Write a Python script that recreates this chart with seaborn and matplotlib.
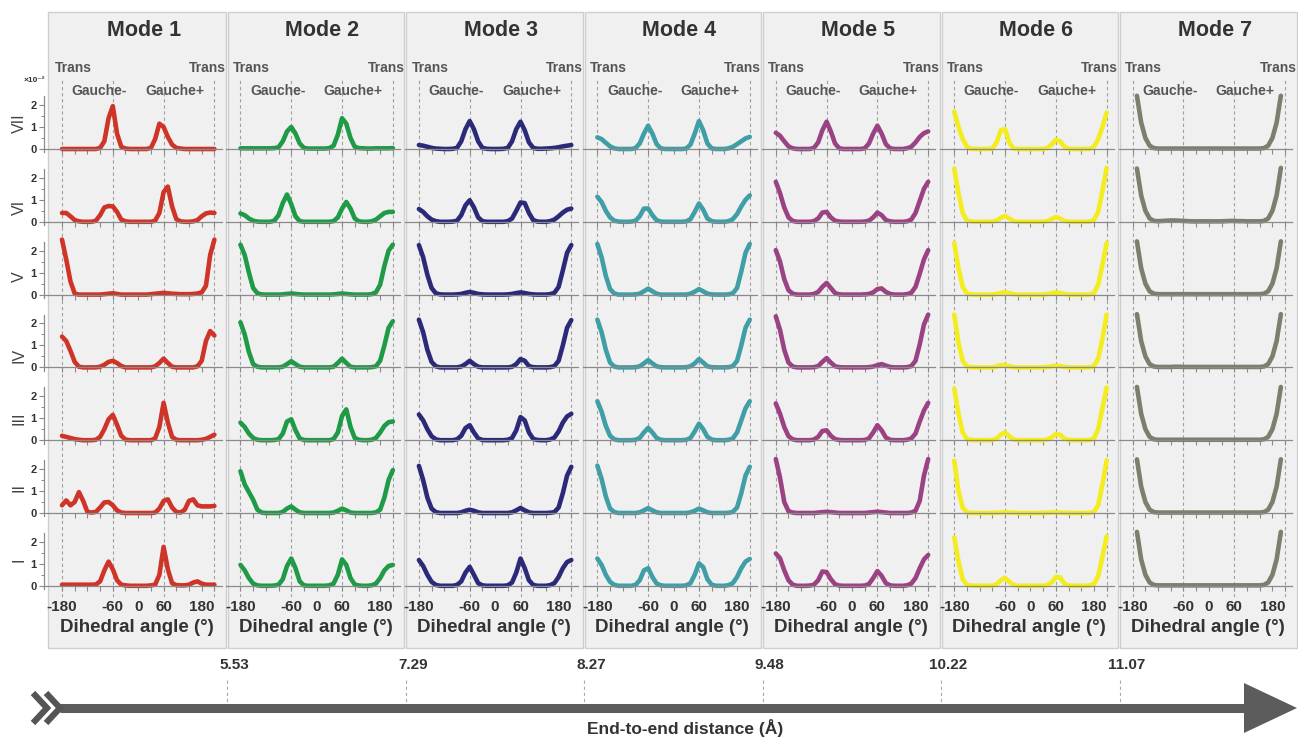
import matplotlib
matplotlib.use("Agg")
import matplotlib.pyplot as plt
import seaborn as sns
from matplotlib.patches import Rectangle, Polygon
from matplotlib.lines import Line2D

nan = float("nan")

# ---------------- data ----------------
ANGLES = list(range(-180, 181, 10))  # dihedral angle grid (deg)
MODES = ["Mode 1", "Mode 2", "Mode 3", "Mode 4", "Mode 5", "Mode 6", "Mode 7"]
ROWS = ["VII", "VI", "V", "IV", "III", "II", "I"]
COLORS = ["#cf3428", "#1f9a47", "#2b2a78", "#3f9ea6", "#9a4283", "#f3ec1f", "#7e7e6e"]
DISTANCES = ["5.53", "7.29", "8.27", "9.48", "10.22", "11.07"]
XTICK_LABELS = ["-180", "-60", "0", "60", "180"]

# probability (x10^-2); rows VII..I; values at ANGLES
MODE1 = [
    [0, 0, 0, 0, 0, 0, 0, 0, 0, 0.05, 0.35, 1.4, 1.95, 0.7, 0.1, 0.02, 0, 0, 0, 0, 0, 0.05, 0.45, 1.15, 1.0, 0.55, 0.2, 0.05, 0.02, 0, 0, 0, 0, 0, 0, 0, 0],
    [0.4, 0.4, 0.25, 0.08, 0.02, 0, 0, 0, 0.05, 0.3, 0.65, 0.72, 0.7, 0.45, 0.1, 0.02, 0, 0, 0, 0, 0, 0, 0.05, 0.4, 1.35, 1.6, 0.7, 0.12, 0.02, 0, 0, 0.02, 0.08, 0.25, 0.38, 0.42, 0.4],
    [2.5, 1.6, 0.6, 0.05, 0, 0, 0, 0, 0, 0, 0.02, 0.04, 0.06, 0.03, 0, 0, 0, 0, 0, 0, 0, 0.02, 0.04, 0.06, 0.08, 0.06, 0.04, 0.03, 0.02, 0.02, 0.02, 0.03, 0.05, 0.1, 0.4, 1.8, 2.5],
    [1.4, 1.2, 0.75, 0.25, 0.03, 0, 0, 0, 0, 0.03, 0.12, 0.25, 0.3, 0.2, 0.06, 0, 0, 0, 0, 0, 0, 0, 0.05, 0.2, 0.4, 0.2, 0.03, 0, 0, 0, 0, 0, 0.05, 0.3, 1.2, 1.65, 1.45],
    [0.2, 0.15, 0.1, 0.05, 0.02, 0, 0, 0, 0.02, 0.15, 0.5, 0.95, 1.15, 0.7, 0.2, 0.03, 0, 0, 0, 0, 0, 0, 0.08, 0.6, 1.7, 0.8, 0.15, 0.02, 0, 0, 0, 0, 0, 0.02, 0.06, 0.15, 0.25],
    [0.35, 0.57, 0.35, 0.5, 0.95, 0.55, 0.05, 0.02, 0.05, 0.25, 0.48, 0.5, 0.35, 0.12, 0.02, 0, 0, 0, 0, 0, 0, 0, 0.02, 0.2, 0.55, 0.62, 0.25, 0.05, 0.02, 0.15, 0.55, 0.62, 0.35, 0.3, 0.3, 0.3, 0.32],
    [0.05, 0.05, 0.05, 0.05, 0.05, 0.05, 0.05, 0.05, 0.06, 0.2, 0.7, 1.1, 0.75, 0.25, 0.05, 0.02, 0, 0, 0, 0, 0, 0.02, 0.05, 0.5, 1.77, 0.75, 0.12, 0.03, 0.02, 0.02, 0.05, 0.15, 0.2, 0.1, 0.05, 0.05, 0.05],
]
MODE2 = [
    [0.03, 0.03, 0.03, 0.03, 0.03, 0.03, 0.03, 0.03, 0.04, 0.08, 0.35, 0.8, 1.0, 0.7, 0.25, 0.05, 0.02, 0.02, 0.02, 0.02, 0.02, 0.04, 0.15, 0.65, 1.4, 1.15, 0.5, 0.1, 0.04, 0.03, 0.02, 0.02, 0.03, 0.03, 0.03, 0.03, 0.04],
    [0.38, 0.3, 0.15, 0.05, 0.01, 0, 0, 0, 0.05, 0.3, 0.85, 1.24, 0.8, 0.25, 0.03, 0, 0, 0, 0, 0, 0, 0, 0.03, 0.2, 0.6, 0.9, 0.6, 0.15, 0.02, 0, 0, 0.02, 0.1, 0.25, 0.4, 0.45, 0.45],
    [2.27, 1.8, 1.0, 0.3, 0.06, 0.01, 0, 0, 0, 0, 0.01, 0.03, 0.05, 0.03, 0.01, 0, 0, 0, 0, 0, 0, 0, 0.01, 0.03, 0.05, 0.03, 0.01, 0, 0, 0, 0, 0.02, 0.1, 0.45, 1.3, 2.0, 2.27],
    [2.05, 1.5, 0.7, 0.15, 0.03, 0, 0, 0, 0, 0, 0.03, 0.15, 0.28, 0.15, 0.03, 0, 0, 0, 0, 0, 0, 0, 0.03, 0.2, 0.4, 0.2, 0.03, 0, 0, 0, 0, 0.01, 0.05, 0.3, 1.0, 1.8, 2.1],
    [0.8, 0.6, 0.3, 0.1, 0.02, 0, 0, 0, 0.01, 0.05, 0.3, 0.85, 0.95, 0.45, 0.08, 0.01, 0, 0, 0, 0, 0, 0, 0.05, 0.35, 1.1, 1.4, 0.6, 0.1, 0.02, 0, 0, 0.02, 0.1, 0.35, 0.65, 0.82, 0.85],
    [1.9, 1.3, 0.95, 0.6, 0.15, 0.02, 0, 0, 0, 0, 0.05, 0.2, 0.3, 0.15, 0.03, 0, 0, 0, 0, 0, 0, 0, 0.02, 0.1, 0.2, 0.12, 0.02, 0, 0, 0, 0, 0, 0.03, 0.15, 0.7, 1.5, 1.95],
    [0.95, 0.7, 0.35, 0.1, 0.02, 0, 0, 0, 0.01, 0.05, 0.3, 0.9, 1.24, 0.8, 0.2, 0.02, 0, 0, 0, 0, 0, 0.02, 0.1, 0.5, 1.2, 0.95, 0.35, 0.06, 0.01, 0, 0, 0.02, 0.1, 0.35, 0.7, 0.9, 0.95],
]
MODE3 = [
    [0.18, 0.15, 0.1, 0.05, 0.02, 0.01, 0, 0, 0.01, 0.05, 0.35, 0.9, 1.27, 0.9, 0.35, 0.05, 0.01, 0, 0, 0, 0.01, 0.05, 0.35, 0.9, 1.24, 0.85, 0.3, 0.05, 0.01, 0.01, 0.02, 0.03, 0.05, 0.08, 0.12, 0.15, 0.18],
    [0.58, 0.45, 0.25, 0.1, 0.03, 0, 0, 0, 0.01, 0.05, 0.3, 0.75, 0.98, 0.65, 0.2, 0.03, 0, 0, 0, 0, 0, 0.03, 0.15, 0.5, 0.88, 0.85, 0.4, 0.08, 0.01, 0, 0, 0.03, 0.1, 0.25, 0.42, 0.55, 0.6],
    [2.25, 1.7, 0.9, 0.3, 0.06, 0.01, 0, 0, 0, 0.01, 0.03, 0.08, 0.12, 0.08, 0.03, 0.01, 0, 0, 0, 0, 0, 0.01, 0.03, 0.07, 0.1, 0.07, 0.03, 0.01, 0, 0, 0, 0.02, 0.08, 0.35, 1.1, 1.9, 2.25],
    [2.17, 1.6, 0.8, 0.25, 0.05, 0, 0, 0, 0, 0, 0.04, 0.15, 0.3, 0.15, 0.03, 0, 0, 0, 0, 0, 0, 0, 0.03, 0.15, 0.38, 0.3, 0.06, 0.01, 0, 0, 0, 0.01, 0.06, 0.3, 1.0, 1.8, 2.15],
    [1.17, 0.9, 0.5, 0.18, 0.04, 0, 0, 0, 0, 0.04, 0.2, 0.55, 0.68, 0.35, 0.08, 0.01, 0, 0, 0, 0, 0, 0.02, 0.1, 0.45, 1.05, 0.9, 0.35, 0.06, 0.01, 0, 0, 0.03, 0.12, 0.4, 0.8, 1.08, 1.2],
    [2.14, 1.5, 0.7, 0.2, 0.04, 0, 0, 0, 0, 0, 0.03, 0.1, 0.15, 0.1, 0.03, 0, 0, 0, 0, 0, 0, 0, 0.03, 0.12, 0.23, 0.12, 0.03, 0, 0, 0, 0, 0.01, 0.04, 0.25, 0.9, 1.7, 2.1],
    [1.17, 0.9, 0.5, 0.18, 0.04, 0, 0, 0, 0, 0.04, 0.2, 0.6, 0.86, 0.5, 0.12, 0.02, 0, 0, 0, 0, 0, 0.02, 0.15, 0.6, 1.24, 0.8, 0.25, 0.04, 0, 0, 0, 0.03, 0.12, 0.4, 0.8, 1.08, 1.17],
]
MODE4 = [
    [0.53, 0.45, 0.28, 0.12, 0.03, 0, 0, 0, 0, 0.04, 0.25, 0.7, 1.06, 0.7, 0.22, 0.03, 0, 0, 0, 0, 0, 0.02, 0.2, 0.7, 1.27, 0.85, 0.25, 0.03, 0, 0, 0, 0.03, 0.1, 0.22, 0.35, 0.48, 0.55],
    [1.14, 0.9, 0.5, 0.2, 0.05, 0.01, 0, 0, 0.01, 0.05, 0.25, 0.6, 0.6, 0.3, 0.07, 0.01, 0, 0, 0, 0, 0, 0.02, 0.12, 0.45, 0.83, 0.55, 0.15, 0.03, 0, 0, 0, 0.03, 0.12, 0.35, 0.7, 1.0, 1.2],
    [2.3, 1.7, 0.85, 0.25, 0.05, 0, 0, 0, 0, 0.01, 0.04, 0.15, 0.27, 0.15, 0.04, 0, 0, 0, 0, 0, 0, 0, 0.04, 0.13, 0.25, 0.15, 0.04, 0.01, 0, 0, 0, 0.01, 0.06, 0.3, 1.05, 1.9, 2.3],
    [2.17, 1.6, 0.8, 0.22, 0.04, 0, 0, 0, 0, 0.01, 0.05, 0.18, 0.33, 0.18, 0.05, 0.01, 0, 0, 0, 0, 0, 0.01, 0.05, 0.18, 0.38, 0.22, 0.05, 0.01, 0, 0, 0, 0.01, 0.06, 0.3, 1.0, 1.8, 2.17],
    [1.77, 1.3, 0.65, 0.2, 0.04, 0, 0, 0, 0, 0.02, 0.1, 0.35, 0.56, 0.35, 0.1, 0.02, 0, 0, 0, 0, 0, 0.02, 0.1, 0.4, 0.75, 0.5, 0.15, 0.03, 0, 0, 0, 0.02, 0.08, 0.35, 0.9, 1.45, 1.77],
    [2.15, 1.55, 0.75, 0.2, 0.04, 0, 0, 0, 0, 0, 0.03, 0.12, 0.22, 0.12, 0.03, 0, 0, 0, 0, 0, 0, 0, 0.03, 0.1, 0.2, 0.12, 0.03, 0, 0, 0, 0, 0.01, 0.05, 0.25, 0.9, 1.7, 2.1],
    [1.24, 0.95, 0.5, 0.18, 0.04, 0, 0, 0, 0, 0.04, 0.25, 0.7, 0.8, 0.4, 0.1, 0.02, 0, 0, 0, 0, 0, 0.02, 0.12, 0.5, 1.02, 0.85, 0.3, 0.05, 0, 0, 0, 0.03, 0.12, 0.4, 0.8, 1.1, 1.22],
]
MODE5 = [
    [0.74, 0.6, 0.35, 0.12, 0.03, 0, 0, 0, 0, 0.05, 0.3, 0.85, 1.24, 0.8, 0.25, 0.03, 0, 0, 0, 0, 0, 0.03, 0.25, 0.7, 1.06, 0.7, 0.22, 0.03, 0, 0, 0, 0.03, 0.1, 0.3, 0.55, 0.72, 0.8],
    [1.82, 1.3, 0.65, 0.2, 0.04, 0, 0, 0, 0, 0.03, 0.15, 0.42, 0.45, 0.2, 0.05, 0.01, 0, 0, 0, 0, 0, 0.01, 0.05, 0.2, 0.42, 0.3, 0.08, 0.02, 0, 0, 0, 0.02, 0.1, 0.4, 0.95, 1.5, 1.82],
    [2.02, 1.5, 0.7, 0.2, 0.04, 0, 0, 0, 0, 0.03, 0.12, 0.35, 0.53, 0.3, 0.07, 0.01, 0, 0, 0, 0, 0, 0.01, 0.03, 0.1, 0.25, 0.28, 0.12, 0.03, 0, 0, 0, 0.02, 0.08, 0.35, 0.95, 1.6, 2.02],
    [2.32, 1.7, 0.8, 0.22, 0.04, 0, 0, 0, 0, 0.01, 0.06, 0.25, 0.42, 0.22, 0.05, 0.01, 0, 0, 0, 0, 0, 0, 0.01, 0.04, 0.1, 0.15, 0.08, 0.02, 0, 0, 0, 0.01, 0.06, 0.3, 1.05, 1.95, 2.4],
    [1.67, 1.2, 0.6, 0.18, 0.04, 0, 0, 0, 0, 0.03, 0.15, 0.42, 0.45, 0.2, 0.05, 0.01, 0, 0, 0, 0, 0, 0.01, 0.08, 0.35, 0.68, 0.45, 0.12, 0.02, 0, 0, 0, 0.02, 0.08, 0.3, 0.85, 1.35, 1.7],
    [2.45, 1.6, 0.5, 0.08, 0.02, 0, 0, 0, 0, 0, 0.02, 0.04, 0.05, 0.04, 0.02, 0, 0, 0, 0, 0, 0, 0, 0.02, 0.04, 0.06, 0.04, 0.02, 0, 0, 0, 0, 0, 0.02, 0.1, 0.55, 1.7, 2.45],
    [1.47, 1.25, 0.7, 0.25, 0.05, 0, 0, 0, 0.01, 0.05, 0.25, 0.65, 0.62, 0.3, 0.07, 0.01, 0, 0, 0, 0, 0, 0.01, 0.08, 0.35, 0.67, 0.45, 0.12, 0.02, 0, 0, 0, 0.02, 0.1, 0.35, 0.8, 1.2, 1.4],
]
MODE6 = [
    [1.7, 1.0, 0.45, 0.1, 0.01, 0, 0, 0, 0, 0.02, 0.3, 0.85, 0.9, 0.3, 0.02, 0, 0, 0, 0, 0, 0, 0, 0.05, 0.2, 0.42, 0.35, 0.1, 0.01, 0, 0, 0, 0, 0.01, 0.1, 0.45, 1.0, 1.65],
    [2.42, 1.3, 0.4, 0.06, 0.01, 0, 0, 0, 0, 0.01, 0.05, 0.18, 0.27, 0.15, 0.03, 0, 0, 0, 0, 0, 0, 0, 0.03, 0.12, 0.22, 0.15, 0.04, 0.01, 0, 0, 0, 0, 0.01, 0.08, 0.45, 1.4, 2.45],
    [2.35, 1.2, 0.35, 0.05, 0.01, 0, 0, 0, 0, 0, 0.03, 0.07, 0.1, 0.06, 0.02, 0, 0, 0, 0, 0, 0, 0, 0.02, 0.06, 0.1, 0.07, 0.03, 0, 0, 0, 0, 0, 0.01, 0.07, 0.45, 1.35, 2.35],
    [2.4, 1.1, 0.3, 0.04, 0.01, 0, 0, 0, 0, 0, 0.04, 0.11, 0.1, 0.05, 0.01, 0, 0, 0, 0, 0, 0, 0, 0.02, 0.05, 0.08, 0.06, 0.02, 0, 0, 0, 0, 0, 0.01, 0.06, 0.4, 1.3, 2.4],
    [2.35, 1.2, 0.35, 0.05, 0.01, 0, 0, 0, 0, 0.01, 0.07, 0.25, 0.35, 0.18, 0.04, 0, 0, 0, 0, 0, 0, 0, 0.03, 0.12, 0.28, 0.25, 0.07, 0.01, 0, 0, 0, 0, 0.01, 0.08, 0.5, 1.45, 2.4],
    [2.38, 1.0, 0.25, 0.03, 0, 0, 0, 0, 0, 0, 0.01, 0.02, 0.03, 0.02, 0.01, 0, 0, 0, 0, 0, 0, 0, 0.01, 0.02, 0.03, 0.02, 0.01, 0, 0, 0, 0, 0, 0.01, 0.05, 0.35, 1.3, 2.4],
    [2.2, 1.1, 0.3, 0.04, 0.01, 0, 0, 0, 0, 0.01, 0.07, 0.25, 0.36, 0.18, 0.04, 0, 0, 0, 0, 0, 0, 0, 0.04, 0.15, 0.4, 0.38, 0.1, 0.01, 0, 0, 0, 0, 0.01, 0.08, 0.45, 1.3, 2.25],
]
MODE7 = [
    [nan, 2.42, 1.2, 0.5, 0.15, 0.04, 0.02, 0.02, 0.02, 0.02, 0.02, 0.02, 0.02, 0.02, 0.02, 0.02, 0.02, 0.02, 0.02, 0.02, 0.02, 0.02, 0.02, 0.02, 0.02, 0.02, 0.02, 0.02, 0.02, 0.02, 0.02, 0.04, 0.15, 0.5, 1.2, 2.42, nan],
    [nan, 2.42, 1.2, 0.5, 0.15, 0.04, 0.03, 0.04, 0.05, 0.06, 0.06, 0.05, 0.04, 0.03, 0.02, 0.02, 0.02, 0.02, 0.02, 0.02, 0.02, 0.02, 0.03, 0.04, 0.04, 0.03, 0.03, 0.02, 0.02, 0.02, 0.02, 0.04, 0.15, 0.5, 1.2, 2.45, nan],
    [nan, 2.42, 1.2, 0.5, 0.15, 0.04, 0.02, 0.02, 0.02, 0.02, 0.02, 0.02, 0.02, 0.02, 0.02, 0.02, 0.02, 0.02, 0.02, 0.02, 0.02, 0.02, 0.02, 0.02, 0.02, 0.02, 0.02, 0.02, 0.02, 0.02, 0.02, 0.04, 0.15, 0.5, 1.2, 2.42, nan],
    [nan, 2.42, 1.2, 0.5, 0.15, 0.04, 0.02, 0.02, 0.02, 0.02, 0.03, 0.03, 0.02, 0.02, 0.02, 0.02, 0.02, 0.02, 0.02, 0.02, 0.02, 0.02, 0.02, 0.02, 0.02, 0.02, 0.02, 0.02, 0.02, 0.02, 0.02, 0.04, 0.15, 0.5, 1.2, 2.42, nan],
    [nan, 2.42, 1.2, 0.5, 0.15, 0.04, 0.02, 0.02, 0.02, 0.02, 0.02, 0.02, 0.02, 0.02, 0.02, 0.02, 0.02, 0.02, 0.02, 0.02, 0.02, 0.02, 0.02, 0.02, 0.02, 0.02, 0.02, 0.02, 0.02, 0.02, 0.02, 0.04, 0.15, 0.5, 1.2, 2.42, nan],
    [nan, 2.44, 1.2, 0.5, 0.15, 0.04, 0.02, 0.02, 0.02, 0.02, 0.02, 0.02, 0.02, 0.02, 0.02, 0.02, 0.02, 0.02, 0.02, 0.02, 0.02, 0.02, 0.02, 0.02, 0.02, 0.02, 0.02, 0.02, 0.02, 0.02, 0.02, 0.04, 0.15, 0.5, 1.2, 2.44, nan],
    [nan, 2.45, 1.2, 0.5, 0.15, 0.04, 0.02, 0.02, 0.02, 0.02, 0.02, 0.02, 0.02, 0.02, 0.02, 0.02, 0.02, 0.02, 0.02, 0.02, 0.02, 0.02, 0.02, 0.02, 0.02, 0.02, 0.02, 0.02, 0.02, 0.02, 0.02, 0.04, 0.15, 0.5, 1.2, 2.45, nan],
]
ALL_MODES = [MODE1, MODE2, MODE3, MODE4, MODE5, MODE6, MODE7]

# ---------------- layout (pixels) ----------------
W, H = 1298, 737
S = 152.4 / 360.0        # px per degree
C0, DC = 62.0, 178.45    # x pixel of -180 deg in mode 1, spacing of modes
Z0, DR = 149.0, 72.8     # zero line of top row, row spacing
UNIT = 22.0              # px per y unit
YMIN, YMAX = -0.55, 2.76
ROW_LABEL_OFF = [26, 14, 17.5, 12, 21.5, 25, 25.7]

sns.set_style("white")
plt.rcParams["font.family"] = ["Liberation Sans", "DejaVu Sans"]

fig = plt.figure(figsize=(W / 100, H / 100), dpi=100)
fig.patch.set_facecolor("white")


def fx(x):
    return x / W


def fy(y):
    return 1 - y / H


def box(left, top, w, h):
    return [left / W, 1 - (top + h) / H, w / W, h / H]


TXT = "#333333"
LBL = "#555555"

for m in range(7):
    c = C0 + DC * m
    pl = 48 if m == 0 else c - 12.5
    pw = 177.5 if m == 0 else (176.5 if m < 6 else W - 1 - pl)
    fig.add_artist(Rectangle((fx(pl), fy(648)), pw / W, 636 / H, transform=fig.transFigure,
                             facecolor="#f0f0f0", edgecolor="#cfcfcf", lw=1, zorder=-3))
    xl0 = -222 if m == 0 else -213
    xl1 = 197
    axl = c + (xl0 + 180) * S
    axw = (xl1 - xl0) * S

    ov = fig.add_axes(box(axl, 78, axw, 519), zorder=-1)
    ov.set_xlim(xl0, xl1)
    ov.set_ylim(0, 1)
    ov.axis("off")
    for a in (-180, -60, 60, 180):
        ov.axvline(a, color="#a0a0a0", lw=0.8, ls=(0, (3, 2.5)))

    for r in range(7):
        zero = Z0 + DR * r
        top = zero - YMAX * UNIT
        ax = fig.add_axes(box(axl, top, axw, (YMAX - YMIN) * UNIT))
        ax.patch.set_alpha(0)
        sns.lineplot(x=ANGLES, y=ALL_MODES[m][r], ax=ax, color=COLORS[m], lw=3.3,
                     solid_capstyle="round", solid_joinstyle="round")
        ax.set_xlim(xl0, xl1)
        ax.set_ylim(YMIN, YMAX)
        ax.set_xlabel("")
        ax.set_ylabel("")
        for s in ("top", "right"):
            ax.spines[s].set_visible(False)
        ax.spines["bottom"].set_position(("data", 0))
        ax.spines["bottom"].set_color("#8a8a8a")
        ax.spines["bottom"].set_linewidth(0.9)
        ticks = list(range(-180, 181, 30))
        ax.set_xticks(ticks)
        if r == 6:
            labs = [str(t) if str(t) in XTICK_LABELS else "" for t in ticks]
        else:
            labs = ["" for _ in ticks]
        ax.set_xticklabels(labs)
        ax.tick_params(axis="x", which="major", direction="out", length=3.5, width=0.8,
                       color="#8a8a8a", pad=7, labelsize=11, labelcolor=TXT, bottom=True)
        for lab in ax.get_xticklabels():
            lab.set_fontweight("bold")
        ax.get_xticklabels()[-1].set_horizontalalignment("right")
        if m == 0:
            ax.spines["left"].set_bounds(-0.15, 2.4)
            ax.spines["left"].set_color("#8a8a8a")
            ax.spines["left"].set_linewidth(0.9)
            ax.set_yticks([0, 1, 2])
            ax.set_yticks([0.5, 1.5], minor=True)
            ax.tick_params(axis="y", which="major", direction="out", length=3.5, width=0.8,
                           color="#8a8a8a", pad=2, labelsize=8, labelcolor=TXT, left=True)
            ax.tick_params(axis="y", which="minor", direction="out", length=2, width=0.7,
                           color="#8a8a8a", left=True)
            for lab in ax.get_yticklabels():
                lab.set_fontweight("bold")
            fig.text(fx(19), fy(zero - ROW_LABEL_OFF[r]), ROWS[r], rotation=90, ha="center",
                     va="center", fontsize=11.5, color="#444444")
        else:
            ax.spines["left"].set_visible(False)
            ax.set_yticks([])

    # texts of the panel
    fig.text(fx(c + 82), fy(30), MODES[m], ha="center", va="center", fontsize=15.5,
             fontweight="bold", color=TXT)
    fig.text(fx(c - 7.5), fy(68), "Trans", ha="left", va="center", fontsize=10,
             fontweight="bold", color=LBL)
    fig.text(fx(c + 164), fy(68), "Trans", ha="right", va="center", fontsize=10,
             fontweight="bold", color=LBL)
    fig.text(fx(c + (180 - 92) * S), fy(91), "Gauche-", ha="center", va="center", fontsize=10,
             fontweight="bold", color=LBL)
    fig.text(fx(c + (180 + 86) * S), fy(91), "Gauche+", ha="center", va="center", fontsize=10,
             fontweight="bold", color=LBL)
    fig.text(fx(c + 75), fy(628), "Dihedral angle (°)", ha="center", va="center",
             fontsize=13.5, fontweight="bold", color=TXT)

fig.text(fx(34), fy(80), "×10⁻²", ha="center", va="center", fontsize=6,
         fontweight="bold", color=TXT)

# ---------------- bottom distance arrow ----------------
for k, d in enumerate(DISTANCES):
    xb = C0 + DC * (k + 1) - 13
    fig.add_artist(Line2D([fx(xb), fx(xb)], [fy(680), fy(704)], transform=fig.transFigure,
                          color="#aaaaaa", lw=0.8, ls=(0, (3, 2.5))))
    fig.text(fx(xb + 7), fy(665), d, ha="center", va="center", fontsize=11,
             fontweight="bold", color=TXT)

ARROW = "#5c5c5c"
fig.add_artist(Line2D([fx(60), fx(1250)], [fy(708), fy(708)], transform=fig.transFigure,
                      color=ARROW, lw=6.5, solid_capstyle="butt"))
fig.add_artist(Polygon([(fx(1244), fy(683)), (fx(1297), fy(708)), (fx(1244), fy(733))],
                       closed=True, transform=fig.transFigure, facecolor=ARROW, edgecolor="none"))
for x0 in (33, 46):
    fig.add_artist(Line2D([fx(x0), fx(x0 + 14), fx(x0)], [fy(693), fy(708), fy(723)],
                          transform=fig.transFigure, color="#555555", lw=4.5,
                          solid_joinstyle="miter", solid_capstyle="butt"))
fig.text(fx(685), fy(728), "End-to-end distance (Å)", ha="center", va="center",
         fontsize=12.5, fontweight="bold", color=TXT)

fig.savefig("out.png", dpi=100, facecolor="white")
